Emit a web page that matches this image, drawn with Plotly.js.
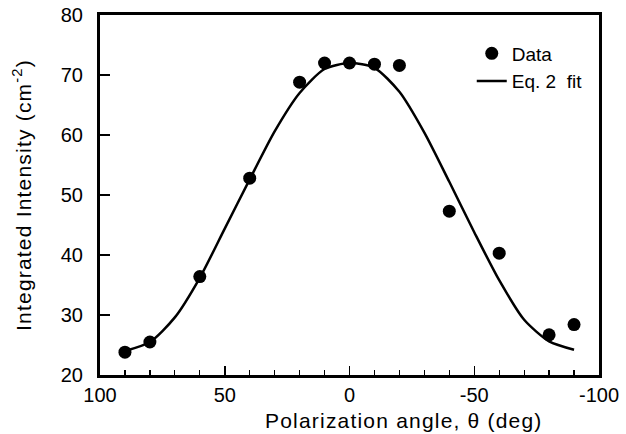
<!DOCTYPE html>
<html>
<head>
<meta charset="utf-8">
<script src="https://cdn.plot.ly/plotly-3.0.1.min.js"></script>
<style>
html,body{margin:0;padding:0;background:#fff;}
#chart{width:626px;height:434px;}
.annotation-text{letter-spacing:1.2px;}
.ytitle{letter-spacing:1.2px;}
</style>
</head>
<body>
<div id="chart"></div>
<script>
// Measured data points
const dataAngle = [90, 80, 60, 40, 20, 10, 0, -10, -20, -40, -60, -80, -90];
const dataIntensity = [23.8, 25.5, 36.4, 52.8, 68.8, 72.0, 72.0, 71.8, 71.6, 47.3, 40.3, 26.7, 28.4];

// Eq. 2 fit curve
const fitAngle = [90, 80, 70, 60, 50, 40, 30, 20, 10, 0, -10, -20, -30, -40, -50, -60, -70, -80, -90];
const fitIntensity = [24.0, 25.5, 29.6, 36.2, 44.4, 52.6, 60.6, 67.0, 71.0, 72.0, 71.2, 67.2, 60.4, 52.2, 43.8, 35.8, 29.2, 25.6, 24.2];

const xTickVals = [100, 50, 0, -50, -100];
const xTickText = ['100', '50', '0', '-50', '-100'];
const yTickVals = [20, 30, 40, 50, 60, 70, 80];

const seriesNames = ['Data', 'Eq. 2  fit'];
const xTitle = 'Polarization angle, θ (deg)';
const yTitle = 'Integrated Intensity (cm<sup>-2</sup>)';

const FONT = 'Liberation Sans, Arial, Helvetica, sans-serif';

const traces = [
  {
    x: dataAngle, y: dataIntensity, type: 'scatter', mode: 'markers',
    name: seriesNames[0],
    marker: {color: '#000', size: 13, line: {width: 0}}
  },
  {
    x: fitAngle, y: fitIntensity, type: 'scatter', mode: 'lines',
    name: seriesNames[1],
    line: {color: '#000', width: 2.5, shape: 'spline', smoothing: 0.7}
  }
];

const layout = {
  width: 626, height: 434,
  margin: {l: 100, r: 27, t: 15, b: 59, pad: 0},
  paper_bgcolor: '#fff', plot_bgcolor: '#fff',
  font: {family: FONT, color: '#000', size: 20},
  showlegend: true,
  legend: {
    x: 0.745, y: 0.946, xanchor: 'left', yanchor: 'top',
    bgcolor: 'rgba(0,0,0,0)', borderwidth: 0,
    font: {family: FONT, size: 19, color: '#000'},
    itemwidth: 30, tracegroupgap: 0
  },
  xaxis: {
    range: [100, -100], autorange: false,
    tickmode: 'array', tickvals: xTickVals, ticktext: xTickText,
    ticks: 'inside', ticklen: 9, tickwidth: 1.5, tickcolor: '#000',
    minor: {dtick: 10, ticks: 'inside', ticklen: 5, tickwidth: 1.2, tickcolor: '#000'},
    showline: true, linecolor: '#000', linewidth: 3, mirror: true,
    showgrid: false, zeroline: false,
    tickfont: {family: FONT, size: 20, color: '#000'},
    ticklabelstandoff: 0
  },
  yaxis: {
    range: [20, 80], autorange: false,
    tickmode: 'array', tickvals: yTickVals,
    ticks: 'inside', ticklen: 10, tickwidth: 1.5, tickcolor: '#000',
    showline: true, linecolor: '#000', linewidth: 3, mirror: true,
    showgrid: false, zeroline: false,
    tickfont: {family: FONT, size: 20, color: '#000'},
    ticklabelstandoff: 10,
    title: {text: yTitle, font: {family: FONT, size: 21, color: '#000'}, standoff: 24}
  },
  annotations: [
    {
      text: xTitle, xref: 'paper', yref: 'paper',
      x: 0.609, y: -0.125, xanchor: 'center', yanchor: 'middle',
      showarrow: false, font: {family: FONT, size: 21, color: '#000'}
    }
  ]
};

Plotly.newPlot('chart', traces, layout, {staticPlot: true, displayModeBar: false});
</script>
</body>
</html>
